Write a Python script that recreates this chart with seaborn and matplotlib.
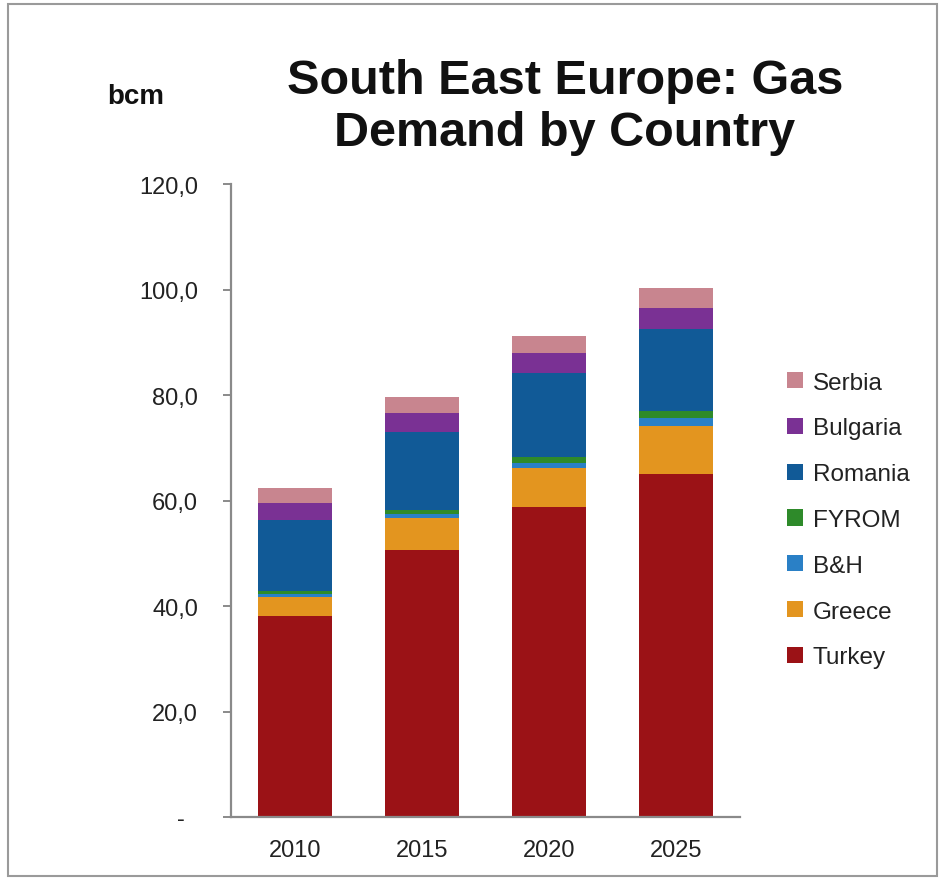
import numpy as np
import pandas as pd
import matplotlib
matplotlib.use("Agg")
import matplotlib.pyplot as plt
from matplotlib.patches import Patch, Rectangle
import seaborn as sns

# --- data (bcm) ---
years = ["2010", "2015", "2020", "2025"]
countries = ["Turkey", "Greece", "B&H", "FYROM", "Romania", "Bulgaria", "Serbia"]
turkey = [38.2, 50.6, 58.7, 65.0]
greece = [3.6, 6.0, 7.4, 9.2]
bh = [0.4, 0.8, 1.0, 1.4]
fyrom = [0.7, 0.8, 1.2, 1.3]
romania = [13.4, 14.8, 15.9, 15.7]
bulgaria = [3.2, 3.6, 3.8, 3.9]
serbia = [2.9, 3.0, 3.2, 3.7]

colors = {
    "Turkey": "#9b1216",
    "Greece": "#e3951f",
    "B&H": "#2a80c6",
    "FYROM": "#2e8a2a",
    "Romania": "#115a97",
    "Bulgaria": "#7a3194",
    "Serbia": "#c8858f",
}

df = pd.DataFrame({
    "year": years,
    "Turkey": turkey, "Greece": greece, "B&H": bh, "FYROM": fyrom,
    "Romania": romania, "Bulgaria": bulgaria, "Serbia": serbia,
})

sns.set_style("white")
plt.rcParams["font.family"] = ["Liberation Sans", "DejaVu Sans"]

fig = plt.figure(figsize=(9.4, 8.79), dpi=100)
ax = fig.add_axes([0.246, 0.0694, 0.541, 0.7201])

bottom = np.zeros(len(years))
for c in countries:
    sns.barplot(data=df, x="year", y=c, color=colors[c], bottom=bottom,
                width=0.58, saturation=1, linewidth=0, ax=ax)
    bottom += df[c].values

ax.set_ylim(0, 120)
ax.set_yticks(np.arange(0, 121, 20))
ax.set_yticklabels(["-  "] + [f"{v},0" for v in range(20, 121, 20)])
ax.set_xlabel("")
ax.set_ylabel("")

for s in ["top", "right"]:
    ax.spines[s].set_visible(False)
for s in ["left", "bottom"]:
    ax.spines[s].set_color("#8a8a8a")
    ax.spines[s].set_linewidth(1.6)

ax.tick_params(axis="y", direction="out", length=6, width=1.4, color="#8a8a8a",
               pad=18, labelsize=17, labelcolor="#222222", left=True)
ax.tick_params(axis="x", length=0, pad=16, labelsize=17, labelcolor="#222222")

# title and unit label
fig.text(565 / 940, 1 - 107 / 879, "South East Europe: Gas\nDemand by Country",
         ha="center", va="center", fontsize=35, fontweight="bold",
         linespacing=1.2, color="#111111")
fig.text(136 / 940, 1 - 97 / 879, "bcm", ha="center", va="center",
         fontsize=20, fontweight="bold", color="#111111")

# legend (top entry = top of stack)
handles = [Patch(facecolor=colors[c], edgecolor="none", label=c)
           for c in reversed(countries)]
fig.legend(handles=handles, loc="center left",
           bbox_to_anchor=(787 / 940, 1 - 521 / 879), frameon=False,
           fontsize=17.5, borderpad=0, borderaxespad=0,
           handlelength=0.65, handleheight=0.65,
           handletextpad=0.4, labelspacing=0.98, labelcolor="#222222")

# outer frame
fig.patches.append(Rectangle((8 / 940, 2 / 879), 929 / 940, 872 / 879,
                             transform=fig.transFigure, fill=False,
                             edgecolor="#9a9a9a", linewidth=1.5))

fig.savefig("out.png", dpi=100)
